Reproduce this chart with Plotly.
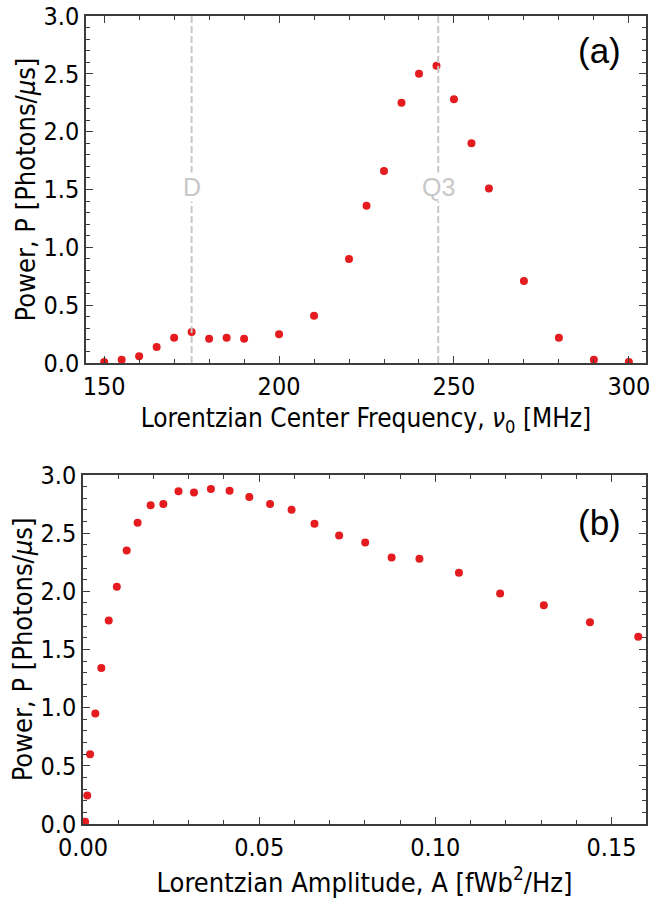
import plotly.graph_objects as go
from plotly.subplots import make_subplots

# Panel (a): power vs Lorentzian center frequency
freq_mhz = [150, 155, 160, 165, 170, 175, 180, 185, 190, 200, 210,
            220, 225, 230, 235, 240, 245, 250, 255, 260, 270, 280, 290, 300]
power_a = [0.01, 0.03, 0.06, 0.14, 0.22, 0.27, 0.21, 0.22, 0.21, 0.25, 0.41,
           0.90, 1.36, 1.66, 2.25, 2.50, 2.57, 2.28, 1.90, 1.51, 0.71, 0.22, 0.03, 0.01]

# Reference transition markers on panel (a)
marker_freqs = [175.0, 245.5]
marker_names = ["D", "Q3"]

# Panel (b): power vs Lorentzian amplitude
amp = [0.0006, 0.0012, 0.0020, 0.0035, 0.0052, 0.0073, 0.0096, 0.0124, 0.0155,
       0.0192, 0.0228, 0.0271, 0.0315, 0.0363, 0.0416, 0.0472, 0.0531, 0.0592,
       0.0657, 0.0727, 0.0801, 0.0876, 0.0955, 0.1067, 0.1184, 0.1308, 0.1439, 0.1576]
power_b = [0.02, 0.245, 0.60, 0.95, 1.34, 1.75, 2.04, 2.35, 2.59,
           2.74, 2.75, 2.86, 2.85, 2.88, 2.865, 2.81, 2.75, 2.70,
           2.58, 2.48, 2.42, 2.29, 2.28, 2.16, 1.98, 1.88, 1.735, 1.61]

FONT = "DejaVu Sans Condensed, DejaVu Sans"
RED = "rgb(228,28,32)"
AXIS = "#3c3c3c"
GUIDE = "#c8c8c8"

fig = make_subplots(rows=2, cols=1, vertical_spacing=0.1)

fig.add_trace(go.Scatter(x=freq_mhz, y=power_a, mode="markers",
                         marker=dict(color=RED, size=8, line=dict(width=0)),
                         showlegend=False), row=1, col=1)
fig.add_trace(go.Scatter(x=amp, y=power_b, mode="markers",
                         marker=dict(color=RED, size=8, line=dict(width=0)),
                         showlegend=False), row=2, col=1)

axis_common = dict(
    showline=True, linecolor=AXIS, linewidth=1.5, mirror="allticks",
    ticks="inside", ticklen=7, tickwidth=1, tickcolor=AXIS,
    showgrid=False, zeroline=False, ticklabeloverflow="allow",
    tickfont=dict(family=FONT, size=25, color="black"),
)
minor_common = dict(ticklen=4, ticks="inside", tickcolor=AXIS, showgrid=False)

fig.update_xaxes(**axis_common)
fig.update_yaxes(**axis_common)

fig.update_xaxes(row=1, col=1, range=[144.8, 304.9], dtick=50, tick0=150,
                 minor=dict(dtick=10, **minor_common),
                 domain=[0.0053, 1.0],
                 title_text="Lorentzian Center Frequency, <i>ν</i><sub>0</sub> [MHz]",
                 title_font=dict(family=FONT, size=26, color="black"),
                 title_standoff=9)
fig.update_yaxes(row=1, col=1, range=[0, 3.0], dtick=0.5, tickformat=".1f",
                 minor=dict(dtick=0.1, **minor_common),
                 domain=[0.5704, 1.0],
                 title_text="Power, P [Photons/<i>μ</i>s]",
                 title_font=dict(family=FONT, size=27, color="black"),
                 title_standoff=0)

fig.update_xaxes(row=2, col=1, range=[0, 0.1598], dtick=0.05, tick0=0, tickformat=".2f",
                 minor=dict(dtick=0.01, **minor_common),
                 domain=[0.0, 1.0],
                 title_text="Lorentzian Amplitude, A [fWb<sup>2</sup>/Hz]",
                 title_font=dict(family=FONT, size=27, color="black"),
                 title_standoff=12)
fig.update_yaxes(row=2, col=1, range=[0, 3.0], dtick=0.5, tickformat=".1f",
                 minor=dict(dtick=0.1, **minor_common),
                 domain=[0.0, 0.432],
                 title_text="Power, P [Photons/<i>μ</i>s]",
                 title_font=dict(family=FONT, size=27, color="black"),
                 title_standoff=0)

# Dashed guides with labels on panel (a)
for fx, name in zip(marker_freqs, marker_names):
    fig.add_shape(type="line", xref="x", yref="y domain", x0=fx, x1=fx, y0=0, y1=1,
                  line=dict(color=GUIDE, width=2, dash="7px,3px"))
    fig.add_annotation(x=fx, y=1.52, xref="x", yref="y", text=name, showarrow=False,
                       xanchor="center", yanchor="middle",
                       bgcolor="white", borderpad=0,
                       font=dict(family="Liberation Sans", size=25, color=GUIDE))

fig.add_annotation(x=0.917, y=0.9, xref="x domain", yref="y domain", text="(a)",
                   xanchor="center", yanchor="middle", showarrow=False,
                   font=dict(family="Liberation Sans", size=35, color="black"))
fig.add_annotation(x=0.917, y=0.863, xref="x2 domain", yref="y2 domain", text="(b)",
                   xanchor="center", yanchor="middle", showarrow=False,
                   font=dict(family="Liberation Sans", size=35, color="black"))

fig.update_layout(
    width=652, height=901,
    margin=dict(l=83, r=2, t=14, b=77),
    plot_bgcolor="white", paper_bgcolor="white",
    showlegend=False,
)

fig.write_html("out.html")
